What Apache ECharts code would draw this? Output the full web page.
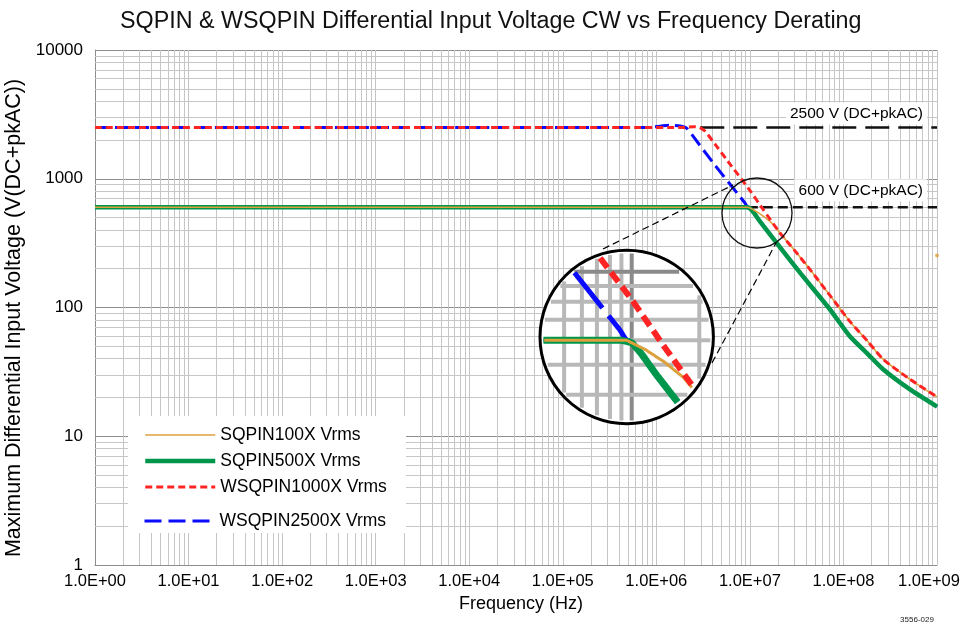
<!DOCTYPE html>
<html>
<head>
<meta charset="utf-8">
<title>SQPIN &amp; WSQPIN derating</title>
<script src="https://cdn.jsdelivr.net/npm/echarts@6/dist/echarts.min.js"></script>
<style>
html,body{margin:0;padding:0;background:#fff;}
#chart{width:961px;height:628px;}
</style>
</head>
<body>
<div id="chart"></div>
<script>
// values, [frequency (Hz), volts]
var sqpin100x = [[1,600],[9.5e6,600],[1.15e7,560],[1.4e7,510],[1.7e7,455],[2.1e7,379],[3e7,278],[4.4e7,197],[7e7,127],[1.17e8,78],[1.8e8,55],[2.67e8,39.5],[5.14e8,27.7],[1e9,20.2]];
var sqpin100xStray = [[1e9,253]];
var sqpin500x = [[1,600],[9e6,600],[1e7,590],[1.1e7,545],[1.28e7,467],[1.93e7,318],[3.5e7,183],[7.18e7,96.5],[1.17e8,59.8],[1.8e8,43.9],[2.67e8,33],[5.14e8,23.1],[1e9,17]];
var wsqpin1000x = [[1,2500],[2.0e6,2500],[2.5e6,2540],[2.9e6,2500],[3.3e6,2350],[4.4e6,1790],[6.3e6,1265],[1e7,813],[1.39e7,575],[2.1e7,379],[3e7,278],[4.4e7,197],[7e7,127],[1.17e8,78],[1.8e8,55],[2.67e8,39.5],[5.14e8,27.7],[1e9,20.2]];
var wsqpin2500x = [[1,2500],[8e5,2500],[1.1e6,2560],[1.4e6,2610],[1.8e6,2570],[2.1e6,2480],[2.4e6,2200],[4.06e6,1324],[8.86e6,648],[9.4e6,605],[1e7,590],[1.1e7,545],[1.28e7,467],[1.93e7,318],[3.5e7,183],[7.18e7,96.5],[1.17e8,59.8],[1.8e8,43.9],[2.67e8,33],[5.14e8,23.1],[1e9,17]];
var limit2500 = [[2.95e6,2500],[1e9,2500]];
var limit600 = [[9.5e6,600],[1e9,600]];

var xTickLabels = ['1.0E+00','1.0E+01','1.0E+02','1.0E+03','1.0E+04','1.0E+05','1.0E+06','1.0E+07','1.0E+08','1.0E+09'];
var yTickLabels = ['1','10','100','1000','10000'];
var seriesNames = ['SQPIN100X Vrms','SQPIN500X Vrms','WSQPIN1000X Vrms','WSQPIN2500X Vrms'];

var font = "'Liberation Sans',Arial,sans-serif";

var colOrange = '#dca03c', colGreen = '#00964b', colRed = '#ff2424', colBlue = '#0a0aff';

// magnifier: the point insetFocus is drawn k times bigger at the centre of the big circle
var insetFocus = [9.5e6, 615];
var inset = {cx: 626.7, cy: 337, r: 86.7, k: 2.4};
var lens = {cx: 757, cy: 213, r: 35};
var connectors = [[[603,249],[733,185]], [[712,363],[776,243]]];

function minorValues(fromExp, toExp){
    var out = [];
    for (var d = fromExp; d < toExp; d++){
        for (var m = 2; m <= 9; m++) out.push(m * Math.pow(10, d));
    }
    return out;
}
function allValues(fromExp, toExp){
    var out = [];
    for (var d = fromExp; d < toExp; d++){
        for (var m = 1; m <= 9; m++) out.push({v: m * Math.pow(10, d), major: m == 1});
    }
    out.push({v: Math.pow(10, toExp), major: true});
    return out;
}

// split a polyline into the pieces that lie inside a circle
function clipToCircle(pts, cx, cy, r){
    var runs = [], cur = [];
    function inside(p){ return (p[0]-cx)*(p[0]-cx) + (p[1]-cy)*(p[1]-cy) <= r*r; }
    for (var i = 0; i < pts.length - 1; i++){
        var a = pts[i], b = pts[i+1];
        var len = Math.sqrt((b[0]-a[0])*(b[0]-a[0]) + (b[1]-a[1])*(b[1]-a[1]));
        var n = Math.max(1, Math.ceil(len / 1.5));
        for (var j = 0; j <= n; j++){
            if (j == 0 && i > 0) continue;
            var t = j / n;
            var p = [a[0] + (b[0]-a[0])*t, a[1] + (b[1]-a[1])*t];
            if (inside(p)) cur.push(p);
            else if (cur.length){ runs.push(cur); cur = []; }
        }
    }
    if (cur.length) runs.push(cur);
    return runs.filter(function(r){ return r.length > 1; });
}

var insetSeries = [
    {data: wsqpin2500x, color: colBlue, width: 5, dash: [45,10]},
    {data: sqpin500x, color: colGreen, width: 7, dash: null},
    {data: sqpin100x, color: colOrange, width: 3, dash: null},
    {data: wsqpin1000x, color: colRed, width: 6, dash: [12,6]}
];

function renderInset(params, api){
    var c0 = api.coord(insetFocus);
    function mag(p){ return [inset.cx + inset.k*(p[0]-c0[0]), inset.cy + inset.k*(p[1]-c0[1])]; }
    var R = inset.r - 3;
    var kids = [];
    connectors.forEach(function(c){
        kids.push({type:'line', shape:{x1:c[0][0], y1:c[0][1], x2:c[1][0], y2:c[1][1]},
            style:{stroke:'#000', lineWidth:1.2, lineDash:[7,4]}});
    });
    kids.push({type:'circle', shape:{cx:lens.cx, cy:lens.cy, r:lens.r}, style:{fill:null, stroke:'#111', lineWidth:1.3}});
    kids.push({type:'circle', shape:{cx:inset.cx, cy:inset.cy, r:inset.r}, style:{fill:'#fff', stroke:null}});
    // magnified grid
    allValues(0, 9).forEach(function(t){
        var x = mag(api.coord([t.v, 1]))[0];
        var dx = x - inset.cx;
        if (Math.abs(dx) >= R) return;
        var h = Math.sqrt(R*R - dx*dx);
        kids.push({type:'line', shape:{x1:x, y1:inset.cy-h, x2:x, y2:inset.cy+h},
            style:{stroke: t.major ? '#8a8a8a' : '#b8b8b8', lineWidth:4}});
    });
    allValues(0, 4).forEach(function(t){
        var y = mag(api.coord([1, t.v]))[1];
        var dy = y - inset.cy;
        if (Math.abs(dy) >= R) return;
        var h = Math.sqrt(R*R - dy*dy);
        kids.push({type:'line', shape:{x1:inset.cx-h, y1:y, x2:inset.cx+h, y2:y},
            style:{stroke: t.major ? '#8a8a8a' : '#b8b8b8', lineWidth:4}});
    });
    insetSeries.forEach(function(s){
        var pts = s.data.map(function(p){ return mag(api.coord(p)); });
        clipToCircle(pts, inset.cx, inset.cy, R).forEach(function(run){
            kids.push({type:'polyline', shape:{points:run},
                style:{stroke:s.color, lineWidth:s.width, lineDash:s.dash, fill:null, lineJoin:'round'}});
        });
    });
    kids.push({type:'circle', shape:{cx:inset.cx, cy:inset.cy, r:inset.r}, style:{fill:null, stroke:'#000', lineWidth:3}});
    return {type:'group', children:kids};
}

var minorLines = minorValues(0, 9).map(function(v){ return {xAxis: v}; })
    .concat(minorValues(0, 4).map(function(v){ return {yAxis: v}; }));

// legend entries: line only, no marker
function legendItem(name, color, width, type){
    return {name: name, itemStyle: {opacity: 0}, lineStyle: {color: color, width: width, type: type}};
}
var legendText = {fontFamily: font, fontSize: 17.5, lineHeight: 20, color: '#000'};

var chart = echarts.init(document.getElementById('chart'));

var option = {
    animation: false,
    title: {
        text: 'SQPIN & WSQPIN Differential Input Voltage CW vs Frequency Derating',
        left: 120, top: 10, padding: 0,
        textStyle: {fontFamily: font, fontSize: 23.3, fontWeight: 'normal', color: '#111'}
    },
    grid: {left: 95, right: 24, top: 50, bottom: 63, outerBoundsMode: 'none'},
    legend: [
        {orient: 'vertical', left: 143, top: 425, padding: 0, itemGap: 6,
            itemWidth: 70, itemHeight: 14, textStyle: legendText,
            data: [legendItem(seriesNames[0], colOrange, 1.6, 'solid'),
                   legendItem(seriesNames[1], colGreen, 4.5, 'solid'),
                   legendItem(seriesNames[2], colRed, 3, [7,4])]},
        {orient: 'vertical', left: 143, top: 511, padding: 0,
            itemWidth: 70, itemHeight: 14, textStyle: legendText,
            data: [legendItem(seriesNames[3], colBlue, 3, [17,7])]}
    ],
    xAxis: {
        type: 'log', logBase: 10, min: 1, max: 1e9, splitNumber: 9,
        name: 'Frequency (Hz)', nameLocation: 'middle', nameGap: 30,
        nameTextStyle: {fontFamily: font, fontSize: 18, color: '#000', padding: [0, 0, 0, 10]},
        axisLine: {lineStyle: {color: '#8c8c8c'}},
        axisTick: {show: false},
        axisLabel: {margin: 8, fontFamily: font, fontSize: 16.5, color: '#000',
            formatter: function(v){
                var i = Math.round(Math.log10(v));
                // last label would run off the page: pad its right side to pull it inward
                return i == xTickLabels.length - 1 ? '{last|' + xTickLabels[i] + '}' : xTickLabels[i];
            },
            rich: {last: {fontFamily: font, fontSize: 16.5, color: '#000', padding: [0, 16, 0, 0]}}},
        splitLine: {show: true, lineStyle: {color: '#c4c4c4', width: 1}}
    },
    yAxis: {
        type: 'log', logBase: 10, min: 1, max: 10000, splitNumber: 4,
        name: 'Maximum Differential Input Voltage (V(DC+pkAC))', nameLocation: 'middle', nameGap: 63,
        nameTextStyle: {fontFamily: font, fontSize: 21.5, color: '#000', padding: [0, 21, 0, 0]},
        axisLine: {show: true, lineStyle: {color: '#8c8c8c'}},
        axisTick: {show: false},
        axisLabel: {margin: 12, fontFamily: font, fontSize: 17, color: '#000',
            formatter: function(v){ return yTickLabels[Math.round(Math.log10(v))]; }},
        splitLine: {show: true, lineStyle: {color: '#8e8e8e', width: 1}}
    },
    series: [
        {name: 'minorGrid', type: 'line', data: [], z: 1, silent: true,
            markLine: {z: 1, silent: true, symbol: ['none','none'], label: {show: false}, animation: false,
                lineStyle: {color: '#c6c6c6', width: 1, type: 'solid'}, emphasis: {disabled: true},
                data: minorLines}},
        {name: 'limit2500', type: 'line', data: limit2500, symbol: 'none', silent: true,
            lineStyle: {color: '#111', width: 2.5, type: [24,9]}},
        {name: 'limit600', type: 'line', data: limit600, symbol: 'none', silent: true,
            lineStyle: {color: '#111', width: 2.5, type: [10,5]}},
        {name: seriesNames[3], type: 'line', data: wsqpin2500x, symbol: 'none', smooth: 0.2,
            lineStyle: {color: colBlue, width: 3, type: [14,6]}, itemStyle: {color: colBlue}},
        {name: seriesNames[1], type: 'line', data: sqpin500x, symbol: 'none', smooth: 0.2,
            lineStyle: {color: colGreen, width: 4.5}, itemStyle: {color: colGreen}},
        {name: seriesNames[0], type: 'line', data: sqpin100x, symbol: 'none', smooth: 0.2,
            lineStyle: {color: colOrange, width: 1.6}, itemStyle: {color: colOrange}},
        {name: seriesNames[2], type: 'line', data: wsqpin1000x, symbol: 'none', smooth: 0.2,
            lineStyle: {color: colRed, width: 3, type: [7,4]}, itemStyle: {color: colRed}},
        {name: 'stray', type: 'scatter', data: sqpin100xStray, symbolSize: 4, silent: true,
            itemStyle: {color: colOrange}},
        {name: 'inset', type: 'custom', data: [[1,1]], clip: false, z: 10, silent: true,
            renderItem: renderInset}
    ]
};
chart.setOption(option);

// text boxes for the two limit lines, placed through the axes
var p2500 = chart.convertToPixel({gridIndex: 0}, [1e9, 2500]);
var p600 = chart.convertToPixel({gridIndex: 0}, [1e9, 600]);
chart.setOption({
    graphic: [
        {type: 'rect', shape: {x: 128, y: 416, width: 278, height: 117}, style: {fill: '#fff'}, z: 3, silent: true},
        {type: 'text', x: p2500[0] - 10, y: p2500[1] - 14, z: 6, silent: true,
            style: {text: '2500 V (DC+pkAC)', align: 'right', verticalAlign: 'middle', fill: '#000',
                font: '15.5px ' + font, backgroundColor: '#fff', padding: [3,4]}},
        {type: 'text', x: p600[0] - 10, y: p600[1] - 17, z: 6, silent: true,
            style: {text: '600 V (DC+pkAC)', align: 'right', verticalAlign: 'middle', fill: '#000',
                font: '15.5px ' + font, backgroundColor: '#fff', padding: [3,4]}},
        {type: 'text', x: 917, y: 620, silent: true,
            style: {text: '3556-029', align: 'center', verticalAlign: 'middle', fill: '#222', font: '8px ' + font}}
    ]
});
</script>
</body>
</html>
